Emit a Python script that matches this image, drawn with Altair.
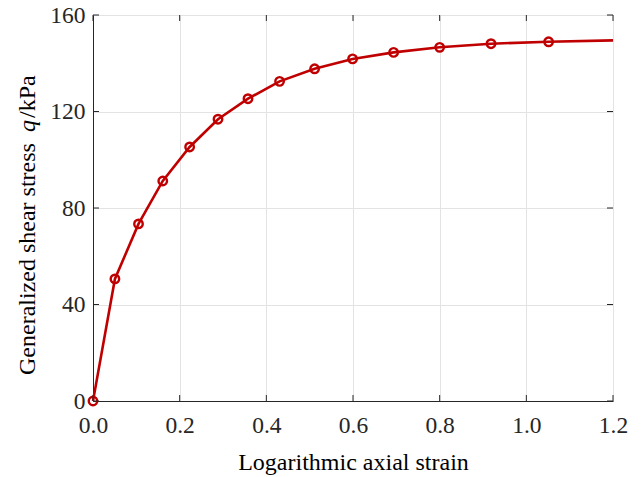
import altair as alt
import pandas as pd

# Data
strain = [0.0, 0.0506, 0.105, 0.161, 0.223, 0.2885, 0.3577, 0.4306, 0.5114,
          0.599, 0.6937, 0.800, 0.9185, 1.0514, 1.2]
q_kpa = [0.0, 50.6, 73.4, 91.2, 105.3, 116.8, 125.3, 132.5, 137.7,
         141.8, 144.5, 146.6, 148.1, 148.9, 149.5]
has_marker = [True] * 14 + [False]

x_ticks = [0.0, 0.2, 0.4, 0.6, 0.8, 1.0, 1.2]
y_ticks = [0, 40, 80, 120, 160]

W, H = 520, 386
FONT = "Liberation Serif"
RED = "#C00000"
AX = "#262626"

df = pd.DataFrame({"strain": strain, "q": q_kpa, "marker": has_marker})
xt = pd.DataFrame({"v": x_ticks})
yt = pd.DataFrame({"v": y_ticks})

xscale = alt.Scale(domain=[0, 1.2], nice=False, zero=False)
yscale = alt.Scale(domain=[0, 160], nice=False, zero=False)

xaxis = alt.Axis(values=x_ticks, format=".1f", title="Logarithmic axial strain",
                 grid=True, gridColor="#e3e3e3", ticks=False, domainColor=AX,
                 labelFlush=False, labelOverlap=False,
                 labelFont=FONT, labelFontSize=23.5, labelColor=AX, labelPadding=12,
                 titleFont=FONT, titleFontSize=24, titleFontWeight="normal",
                 titleColor="#000000", titlePadding=14)
yaxis = alt.Axis(values=y_ticks, format="d", title=None,
                 grid=True, gridColor="#e3e3e3", ticks=False, domainColor=AX,
                 labelFlush=False, labelOverlap=False,
                 labelFont=FONT, labelFontSize=23.5, labelColor=AX, labelPadding=8)

base = alt.Chart(df)

line = base.mark_line(color=RED, strokeWidth=2.6).encode(
    x=alt.X("strain:Q", scale=xscale, axis=xaxis),
    y=alt.Y("q:Q", scale=yscale, axis=yaxis),
)

points = base.mark_point(shape="circle", filled=False, color=RED, size=72,
                         strokeWidth=2.4, opacity=1).encode(
    x=alt.X("strain:Q", scale=xscale),
    y=alt.Y("q:Q", scale=yscale),
).transform_filter("datum.marker")

TL = 6
tick_bottom = alt.Chart(xt).mark_rule(color=AX, strokeWidth=1).encode(
    x=alt.X("v:Q", scale=xscale), y=alt.value(H), y2=alt.value(H - TL))
tick_top = alt.Chart(xt).mark_rule(color=AX, strokeWidth=1).encode(
    x=alt.X("v:Q", scale=xscale), y=alt.value(0), y2=alt.value(TL))
tick_left = alt.Chart(yt).mark_rule(color=AX, strokeWidth=1).encode(
    y=alt.Y("v:Q", scale=yscale), x=alt.value(0), x2=alt.value(TL))
tick_right = alt.Chart(yt).mark_rule(color=AX, strokeWidth=1).encode(
    y=alt.Y("v:Q", scale=yscale), x=alt.value(W), x2=alt.value(W - TL))

# y-axis title with italic q
title_x = -58
t1 = alt.Chart(pd.DataFrame({"t": ["Generalized shear stress"]})).mark_text(
    font=FONT, fontSize=24, angle=270, align="left", baseline="alphabetic",
    color="#000000").encode(text="t:N", x=alt.value(title_x), y=alt.value(360))
t2 = alt.Chart(pd.DataFrame({"t": ["q"]})).mark_text(
    font=FONT, fontSize=24, fontStyle="italic", angle=270, align="left",
    baseline="alphabetic", color="#000000").encode(
    text="t:N", x=alt.value(title_x), y=alt.value(117))
t3 = alt.Chart(pd.DataFrame({"t": ["/kPa"]})).mark_text(
    font=FONT, fontSize=24, angle=270, align="left", baseline="alphabetic",
    color="#000000").encode(text="t:N", x=alt.value(title_x), y=alt.value(103))

chart = alt.layer(line, points, tick_bottom, tick_top, tick_left, tick_right,
                  t1, t2, t3).properties(
    width=W, height=H,
    autosize=alt.AutoSizeParams(type="none"),
    padding={"left": 93, "top": 15, "right": 29, "bottom": 76},
).configure_view(stroke=AX, strokeWidth=1).configure(background="white")

chart.save("out.html", embed_options={"renderer": "svg", "actions": False})
